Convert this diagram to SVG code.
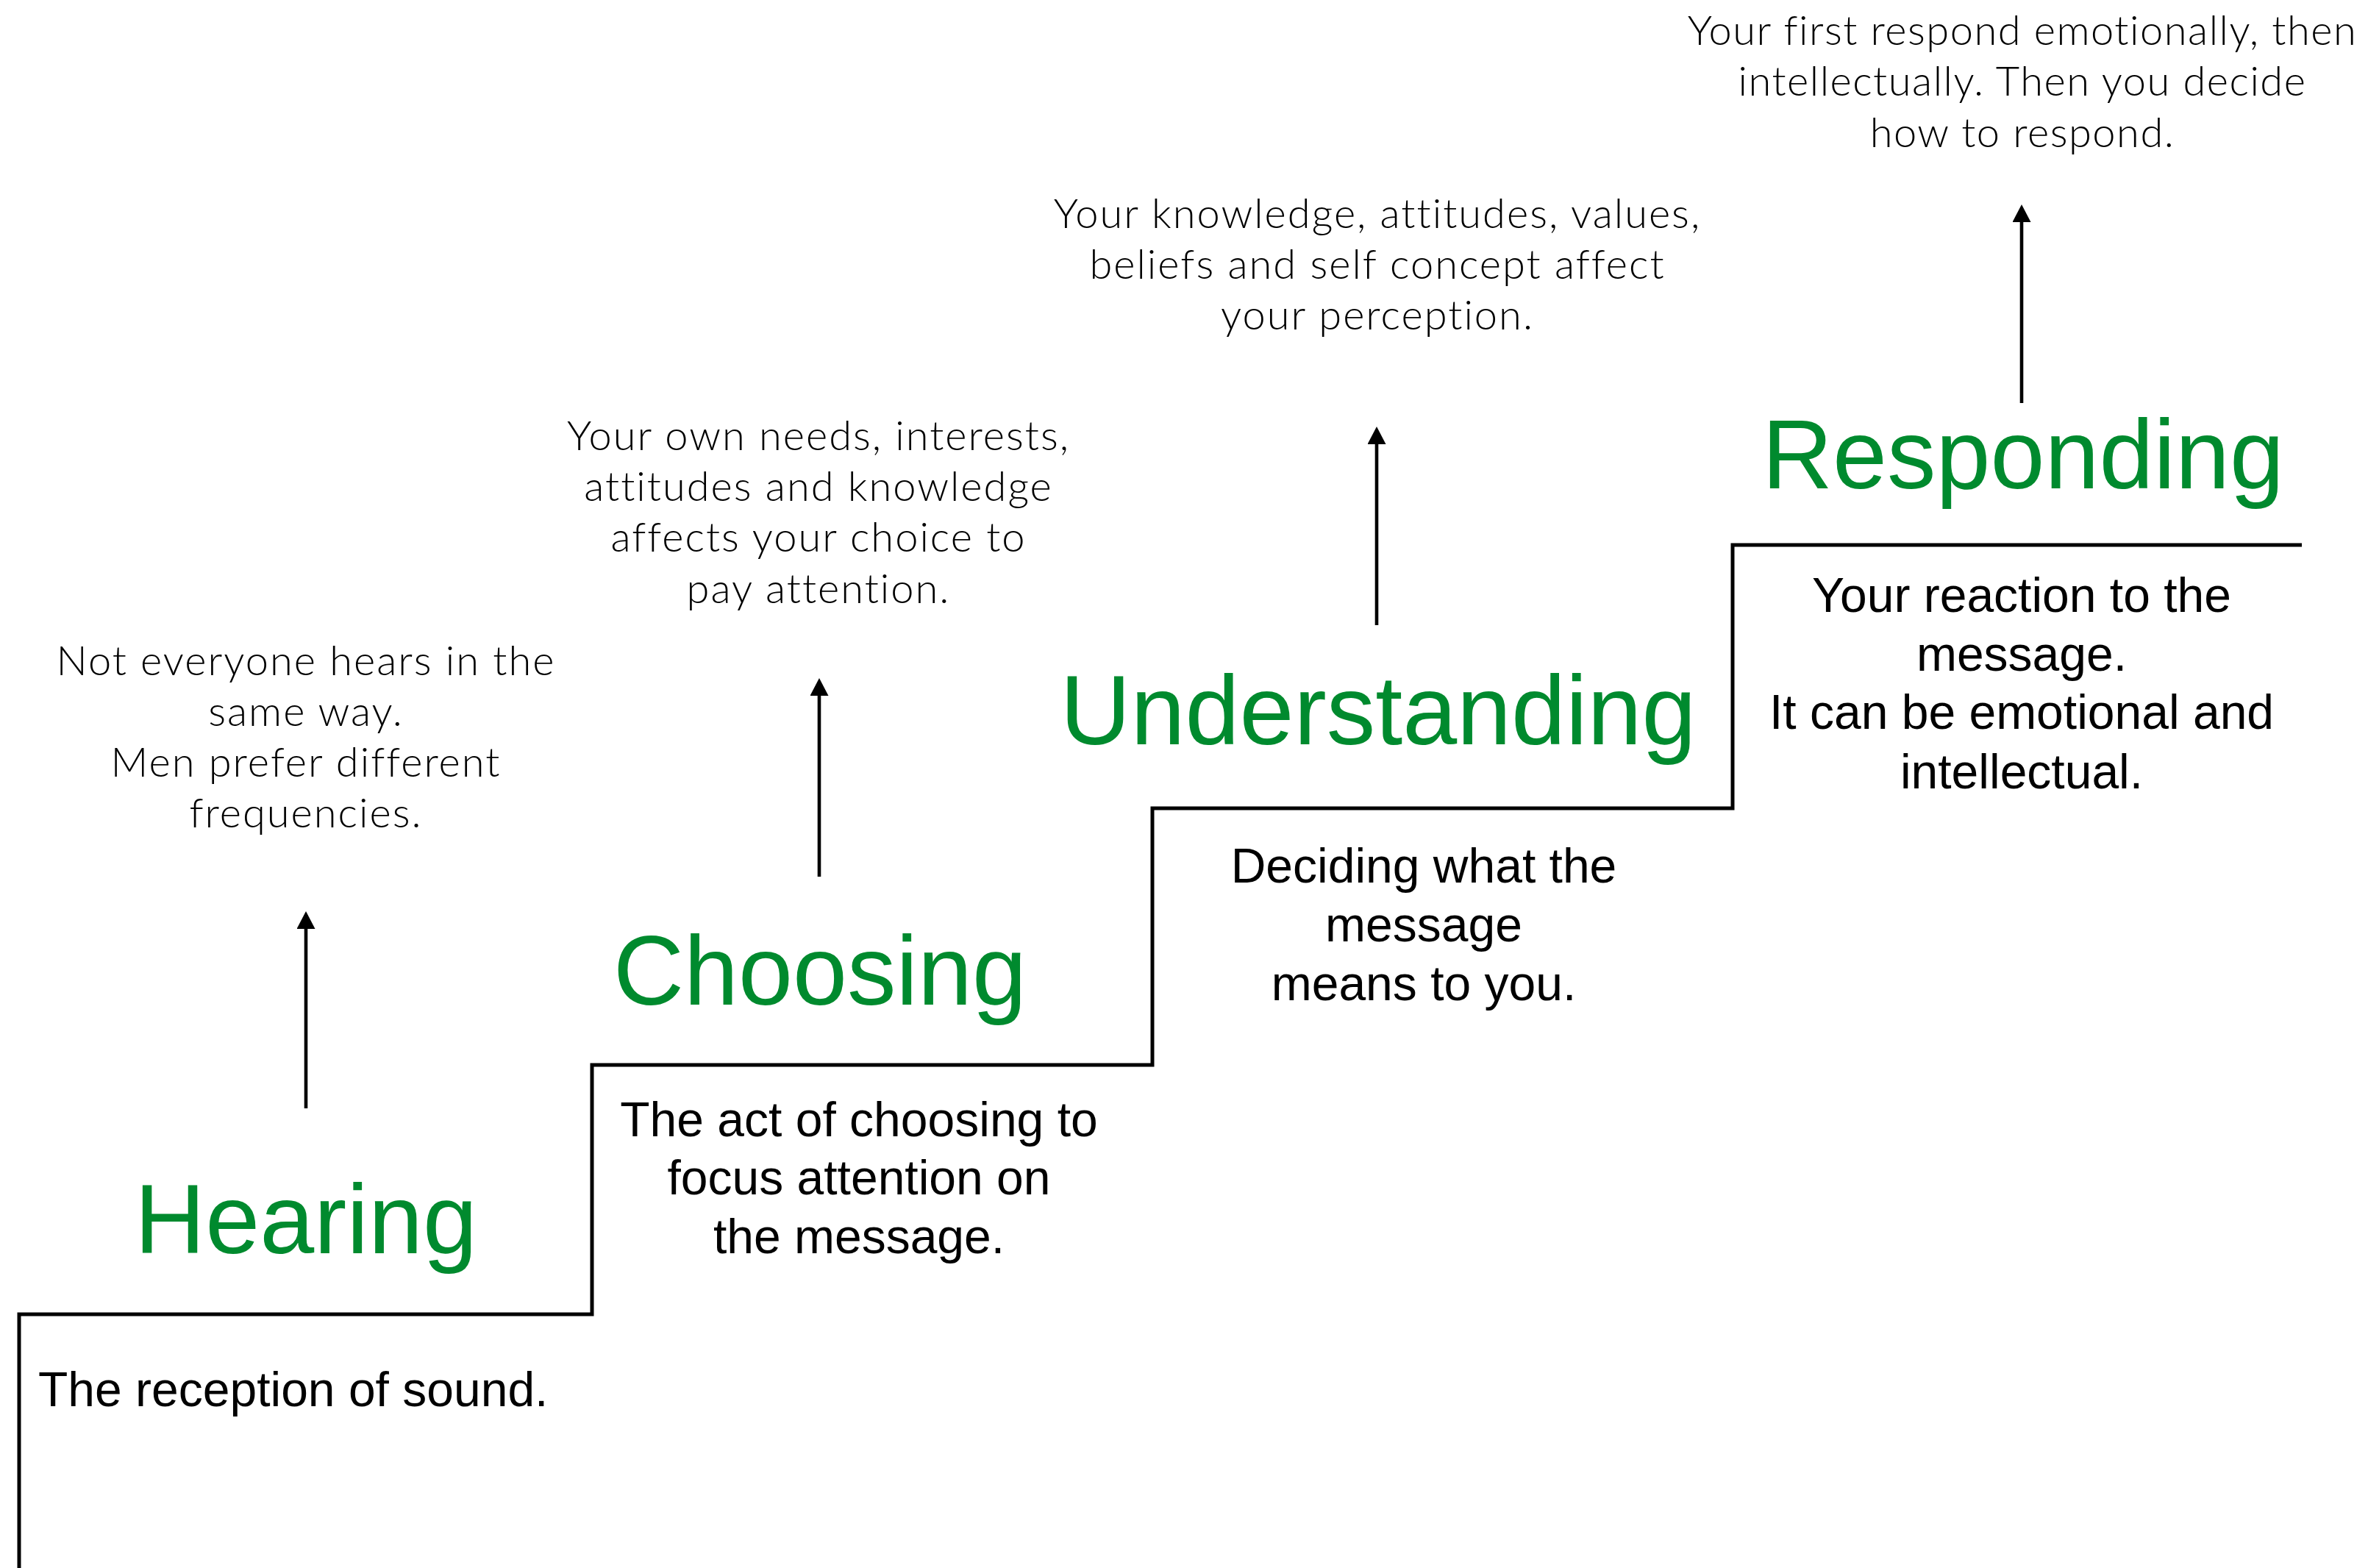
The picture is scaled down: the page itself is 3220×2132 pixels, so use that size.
<svg xmlns="http://www.w3.org/2000/svg" width="3220" height="2132" viewBox="0 0 3220 2132">
  <style>
    .head { font-family: "Liberation Sans", Arial, Helvetica, sans-serif; font-size: 133px; fill: #008A2E; text-anchor: middle; }
    .desc { font-family: "Liberation Sans", Arial, Helvetica, sans-serif; font-size: 66px; fill: #000000; text-anchor: middle; }
    .note { font-family: Lato, "Liberation Sans", Arial, sans-serif; font-weight: 300; font-size: 56px; letter-spacing: 2px; fill: #000000; text-anchor: middle; }
    .stair { fill: none; stroke: #000000; stroke-width: 5; stroke-linejoin: miter; stroke-linecap: butt; }
    .arrow { fill: none; stroke: #000000; stroke-width: 4.6; marker-end: url(#ah); }
  </style>
  <defs>
    <marker id="ah" viewBox="0 0 24 25" refX="1" refY="12.5" markerWidth="24" markerHeight="25" markerUnits="userSpaceOnUse" orient="auto">
      <path d="M0,0 L24,12.5 L0,25 Z" fill="#000000"/>
    </marker>
  </defs>
  <rect x="0" y="0" width="3220" height="2132" fill="#ffffff"/>

  <g id="staircase">
    <path class="stair" d="M26,2132 V1787 H805 V1448 H1567 V1099 H2356 V741 H3130"/>
  </g>

  <g id="hearing">
    <text class="head" x="416" y="1704">Hearing</text>
    <text class="desc" x="52" y="1912" style="text-anchor:start">The reception of sound.</text>
    <text class="note"><tspan x="416" y="918">Not everyone hears in the</tspan><tspan x="416" y="987">same way.</tspan><tspan x="416" y="1056">Men prefer different</tspan><tspan x="416" y="1125">frequencies.</tspan></text>
  </g>

  <g id="choosing">
    <text class="head" x="1115" y="1366">Choosing</text>
    <text class="desc"><tspan x="1168" y="1545">The act of choosing to</tspan><tspan x="1168" y="1624">focus attention on</tspan><tspan x="1168" y="1704">the message.</tspan></text>
    <text class="note"><tspan x="1113" y="612">Your own needs, interests,</tspan><tspan x="1113" y="681">attitudes and knowledge</tspan><tspan x="1113" y="750">affects your choice to</tspan><tspan x="1113" y="820">pay attention.</tspan></text>
  </g>

  <g id="understanding">
    <text class="head" x="1874" y="1012">Understanding</text>
    <text class="desc"><tspan x="1936" y="1200">Deciding what the</tspan><tspan x="1936" y="1280">message</tspan><tspan x="1936" y="1360">means to you.</tspan></text>
    <text class="note"><tspan x="1873" y="310">Your knowledge, attitudes, values,</tspan><tspan x="1873" y="379">beliefs and self concept affect</tspan><tspan x="1873" y="448">your perception.</tspan></text>
  </g>

  <g id="responding">
    <text class="head" x="2751" y="664">Responding</text>
    <text class="desc"><tspan x="2749" y="832">Your reaction to the</tspan><tspan x="2749" y="912">message.</tspan><tspan x="2749" y="991">It can be emotional and</tspan><tspan x="2749" y="1072">intellectual.</tspan></text>
    <text class="note" style="letter-spacing:1.5px"><tspan x="2750" y="61">Your first respond emotionally, then</tspan><tspan x="2750" y="130">intellectually. Then you decide</tspan><tspan x="2750" y="200">how to respond.</tspan></text>
  </g>

  <g id="connectors">
    <line class="arrow" x1="416" y1="1507" x2="416" y2="1262"/>
    <line class="arrow" x1="1114" y1="1192" x2="1114" y2="945"/>
    <line class="arrow" x1="1872" y1="850" x2="1872" y2="603"/>
    <line class="arrow" x1="2749" y1="548" x2="2749" y2="301"/>
  </g>
</svg>
